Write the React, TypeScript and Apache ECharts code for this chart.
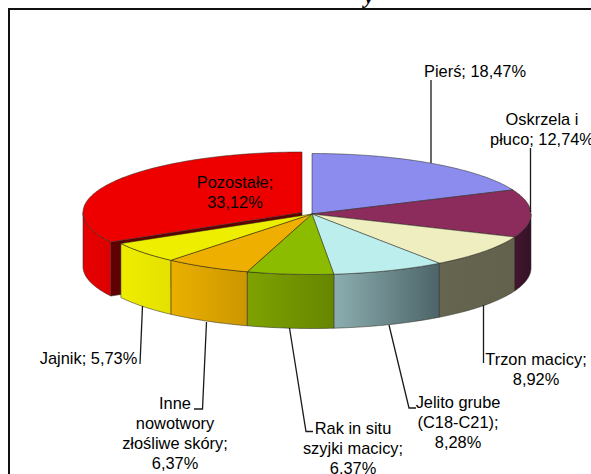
import React, { useEffect, useRef } from "react";
import * as echarts from "echarts";

const categories = ["Pierś", "Oskrzela i płuco", "Trzon macicy", "Jelito grube (C18-C21)", "Rak in situ szyjki macicy", "Inne nowotwory złośliwe skóry", "Jajnik", "Pozostałe"];
const values = [18.47, 12.74, 8.92, 8.28, 6.37, 6.37, 5.73, 33.12];
const labelLines = [
  ["Pierś; 18,47%"],
  ["Oskrzela i", "płuco; 12,74%"],
  ["Trzon macicy;", "8,92%"],
  ["Jelito grube", "(C18-C21);", "8,28%"],
  ["Rak in situ", "szyjki macicy;", "6,37%"],
  ["Inne", "nowotwory", "złośliwe skóry;", "6,37%"],
  ["Jajnik; 5,73%"],
  ["Pozostałe;", "33,12%"],
];
const topColors = ["#8C8CEE", "#8C2C5C", "#EEEEC0", "#BCEEEE", "#8CBC00", "#EEAF00", "#EEEE00", "#EE0000"];
const sideColors = [
  ["#6A6AB0", "#6A6AB0"],
  ["#43162F", "#351226"],
  ["#666650", "#62624C"],
  ["#8CAEB0", "#4C6468"],
  ["#7EA200", "#668600"],
  ["#EAB000", "#CC9600"],
  ["#EEEE00", "#E4E000"],
  ["#E80000", "#DC0000"],
];
const labelPos: [number, number][] = [[475, 71], [542, 129], [536, 369], [458, 422], [353, 448], [175, 433], [88.5, 358], [235, 192]];
const leaders: [number, number][][] = [
  [[431, 80], [431, 163]],
  [[530.5, 148], [530.5, 212]],
  [[483.5, 305], [483.5, 363]],
  [[389, 325], [409, 408], [416, 408]],
  [[289.5, 328], [306, 431.5], [313, 431.5]],
  [[206.5, 322], [202.5, 409], [194, 409]],
  [[142.5, 306], [140, 364]],
  [],
];

const CX = 312, CY = 214, RX = 219, RY = 60.5, DEPTH = 54, EXPLODED_DX = -10, EXPLODED_DY = -1.5;
const total = values.reduce((a, b) => a + b, 0);
const point = (t: number, cx: number, cy: number, dz = 0): number[] => [
  cx + RX * Math.sin(t),
  cy - RY * Math.cos(t) + dz,
];
const arc = (a: number, b: number, cx: number, cy: number, dz = 0) => {
  const n = Math.max(2, Math.ceil(Math.abs(b - a) / 0.02));
  const pts: number[][] = [];
  for (let i = 0; i <= n; i++) pts.push(point(a + ((b - a) * i) / n, cx, cy, dz));
  return pts;
};

function renderItem(params: any, api: any) {
  const i = params.dataIndex;
  const before = values.slice(0, i).reduce((a, b) => a + b, 0);
  const t1 = (before / total) * Math.PI * 2;
  const t2 = ((before + api.value(0)) / total) * Math.PI * 2;
  const last = i === values.length - 1;
  const cx = last ? CX + EXPLODED_DX : CX;
  const cy = last ? CY + EXPLODED_DY : CY;
  const edge = "rgba(40,40,30,0.65)";
  const children: any[] = [];
  const a = Math.max(t1, Math.PI / 2);
  const b = Math.min(t2, (Math.PI * 3) / 2);
  if (last) {
    const e = point(t1, cx, cy);
    children.push({
      type: "polygon",
      shape: { points: [[cx, cy], e, [e[0], e[1] + DEPTH], [cx, cy + DEPTH]] },
      style: { fill: "#5E0000", stroke: edge, lineWidth: 0.8 },
    });
  }
  if (b > a) {
    children.push({
      type: "polygon",
      shape: { points: [...arc(a, b, cx, cy), ...arc(b, a, cx, cy, DEPTH)] },
      style: {
        fill: new echarts.graphic.LinearGradient(0, 0, 1, 0, [
          { offset: 0, color: sideColors[i][0] },
          { offset: 1, color: sideColors[i][1] },
        ]),
        stroke: edge,
        lineWidth: 0.8,
      },
    });
  }
  children.push({
    type: "polygon",
    shape: { points: [[cx, cy], ...arc(t1, t2, cx, cy)] },
    style: { fill: topColors[i], stroke: edge, lineWidth: 0.8 },
  });
  return { type: "group", children };
}

function labelItem(params: any) {
  const i = params.dataIndex;
  const children: any[] = [];
  if (leaders[i].length) {
    children.push({
      type: "polyline",
      shape: { points: leaders[i] },
      style: { stroke: "#1a1a1a", lineWidth: 1.3, fill: "none" },
    });
  }
  labelLines[i].forEach((line, k) => {
    children.push({
      type: "text",
      x: labelPos[i][0],
      y: labelPos[i][1] + (k - (labelLines[i].length - 1) / 2) * 20,
      style: {
        text: line,
        font: '16.4px "Liberation Sans"',
        fill: "#000",
        align: "center",
        verticalAlign: "middle",
      },
    });
  });
  return { type: "group", children };
}

const order = values.map((v, i) => ({ value: [v], name: categories[i] }));

export default function App() {
  const ref = useRef<HTMLDivElement>(null);
  useEffect(() => {
    document.body.style.margin = "0";
    const chart = echarts.init(ref.current!, undefined, { renderer: "svg" });
    chart.setOption({
      animation: false,
      backgroundColor: "#fff",
      graphic: [
        { type: "rect", shape: { x: 9, y: 9, width: 600, height: 500 }, style: { fill: "none", stroke: "#111", lineWidth: 2 } },
        { type: "text", x: 369, y: -16, style: { text: "y", font: 'italic bold 22px "Liberation Serif"', fill: "#000", align: "center" } },
      ],
      series: [
        {
          type: "custom",
          coordinateSystem: "none",
          renderItem: (p: any, api: any) => (p.dataIndex === values.length - 1 ? renderItem(p, api) : null),
          data: order,
          z: 1,
          silent: true,
        },
        {
          type: "custom",
          coordinateSystem: "none",
          renderItem: (p: any, api: any) => (p.dataIndex < values.length - 1 ? renderItem(p, api) : null),
          data: order,
          z: 2,
          silent: true,
        },
        {
          type: "custom",
          coordinateSystem: "none",
          renderItem: labelItem,
          data: order,
          z: 3,
          silent: true,
        },
      ],
    });
    return () => chart.dispose();
  }, []);
  return <div ref={ref} style={{ width: 591, height: 474, overflow: "hidden" }} />;
}
